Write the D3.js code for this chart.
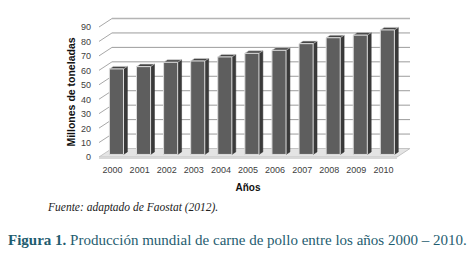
<html>
<meta charset="utf-8" />
<head>
<title>Producción mundial de carne de pollo</title>
<script src="https://cdn.jsdelivr.net/npm/d3@7"></script>
<style>
	body { margin:0; background:#fff; }
	svg { display:block; }
</style>
<script>
// datos
const years = ['2000','2001','2002','2003','2004','2005','2006','2007','2008','2009','2010'];
const values = [59.2, 60.8, 63.8, 64.7, 67.5, 70.0, 72.1, 76.7, 80.8, 82.6, 86.2];
const yTicks = [0, 10, 20, 30, 40, 50, 60, 70, 80, 90];

window.onload = function() {

	const svg = d3.select('svg');

	// profundidad del efecto 3D
	const DX = 13, DY = -8.5;
	const front = 0.3, back = 0.6;

	let x = d3.scaleBand().domain(years).range([99, 397])
		.paddingInner(0.48).paddingOuter(0.24);
	let y = d3.scaleLinear().domain([0, 90]).range([157, 27]);

	const p = (px, py, d) => [px + d * DX, py + d * DY];
	const poly = (pts) => pts.map(q => q.join(',')).join(' ');

	let x0 = x.range()[0], x1 = x.range()[1];

	// suelo
	svg.append('polygon')
		.attr('points', poly([[x0, y(0)], [x1, y(0)], p(x1, y(0), 1), p(x0, y(0), 1)]))
		.style('fill', '#e4e4e4').style('stroke', '#c4c4c4').style('stroke-width', 1);
	svg.append('polygon')
		.attr('points', poly([[x0, y(0)], [x1, y(0)], [x1, y(0) + 2], [x0, y(0) + 2]]))
		.style('fill', '#d8d8d8');

	// lineas de la pared lateral y de fondo
	let grid = svg.append('g');
	grid.selectAll('line.side')
		.data(yTicks.filter(v => v > 0))
		.enter()
		.append('line')
		.attr('x1', x0).attr('y1', d => y(d))
		.attr('x2', x0 + DX).attr('y2', d => y(d) + DY)
		.style('stroke', '#a8a8a8').style('stroke-width', 1);
	grid.selectAll('line.back')
		.data(yTicks.filter(v => v > 0))
		.enter()
		.append('line')
		.attr('x1', x0 + DX).attr('y1', d => y(d) + DY)
		.attr('x2', x1 + DX).attr('y2', d => y(d) + DY)
		.style('stroke', d => d == 90 ? '#b4b4b4' : '#9c9c9c')
		.style('stroke-width', d => d == 90 ? 1.5 : 1);

	// barras
	let bars = svg.selectAll('g.bar')
		.data(years.map((yr, i) => ({ yr: yr, v: values[i] })))
		.enter()
		.append('g');

	bars.append('polygon')
		.attr('points', d => {
			let a = x(d.yr) + x.bandwidth();
			return poly([p(a, y(d.v), front), p(a, y(d.v), back), p(a, y(0), back), p(a, y(0), front)]);
		})
		.style('fill', '#3a3a3a').style('stroke', '#2e2e2e').style('stroke-width', 0.5);
	bars.append('polygon')
		.attr('points', d => {
			let a = x(d.yr), b = a + x.bandwidth();
			return poly([p(a, y(d.v), front), p(b, y(d.v), front), p(b, y(d.v), back), p(a, y(d.v), back)]);
		})
		.style('fill', '#444').style('stroke', '#d0d0d0').style('stroke-width', 0.6);
	bars.append('polygon')
		.attr('points', d => {
			let a = x(d.yr), b = a + x.bandwidth();
			return poly([p(a, y(d.v), front), p(b, y(d.v), front), p(b, y(0), front), p(a, y(0), front)]);
		})
		.style('fill', '#5e5e5e').style('stroke', '#dcdcdc').style('stroke-width', 1);

	// ejes
	let yAxis = svg.append('g')
		.attr('transform', 'translate(' + x0 + ',0)')
		.call(d3.axisLeft(y).tickValues(yTicks).tickSize(0).tickPadding(8));
	let xAxis = svg.append('g')
		.attr('transform', 'translate(0,' + y(0) + ')')
		.call(d3.axisBottom(x).tickSize(0).tickPadding(10));
	[yAxis, xAxis].forEach(g => {
		g.select('.domain').remove();
		g.selectAll('text')
			.style('font-family', "'Liberation Sans', Arial, sans-serif")
			.style('font-size', '9px')
			.style('fill', '#404040');
	});

	svg.append('text')
		.attr('transform', 'translate(75,92) rotate(-90)')
		.attr('text-anchor', 'middle')
		.style('font-family', "'Liberation Sans', Arial, sans-serif")
		.style('font-weight', 'bold').style('font-size', '10.5px').style('fill', '#111')
		.text('Millones de toneladas');

	svg.append('text')
		.attr('x', 248).attr('y', 191)
		.attr('text-anchor', 'middle')
		.style('font-family', "'Liberation Sans', Arial, sans-serif")
		.style('font-weight', 'bold').style('font-size', '10px').style('fill', '#111')
		.text('Años');

	svg.append('text')
		.attr('x', 48).attr('y', 211)
		.attr('font-family', "'Liberation Serif', 'DejaVu Serif', serif")
		.attr('font-style', 'italic').attr('font-size', '11.5px').attr('fill', '#222')
		.text('Fuente: adaptado de Faostat (2012).');

	let cap = svg.append('text')
		.attr('x', 8).attr('y', 245)
		.attr('font-family', "'Liberation Serif', 'DejaVu Serif', serif")
		.attr('font-size', '15px').attr('fill', '#1f5d70');
	cap.append('tspan').attr('font-weight', 'bold').text('Figura 1.');
	cap.append('tspan').text(' Producción mundial de carne de pollo entre los años 2000 – 2010.');
}
</script>
</head>
<body>
<svg width="473" height="257"></svg>
</body>
</html>
